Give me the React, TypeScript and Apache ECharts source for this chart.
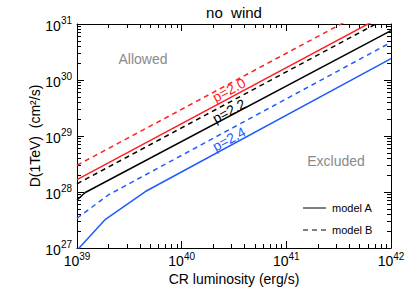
import React, { useEffect, useRef } from "react";
import * as echarts from "echarts";

// ---- data ----
// p = 2.0
const lumRedA = [1e39, 1e42];
const dRedA = [1.66e28, 1.66e31];
const lumRedB = [1e39, 1e42];
const dRedB = [3.0e28, 3.0e31];
// p = 2.2
const lumBlackA = [1e39, 1.2e39, 1e42];
const dBlackA = [7.2e27, 9.8e27, 7.6e30];
const lumBlackB = [1e39, 1e42];
const dBlackB = [1.4e28, 1.4e31];
// p = 2.4
const lumBlueA = [1e39, 1.87e39, 4.5e39, 1e42];
const dBlueA = [9.1e26, 3.25e27, 1.02e28, 2.4e30];
const lumBlueB = [1e39, 2e39, 1e42];
const dBlueB = [3.4e27, 8.9e27, 4.7e30];

const slopeLabels = ["p=2.0", "p=2.2", "p=2.4"];

const FONT = "'Liberation Sans', Arial, Helvetica, sans-serif";
const RED = "#ff1f1f";
const BLACK = "#000000";
const BLUE = "#1f5cff";
const GRAY = "#8a8a8a";

const GRID = { left: 77, right: 24, top: 24, bottom: 49 };

function minorTicks(from: number, to: number): number[] {
  const out: number[] = [];
  for (let d = from; d < to; d++) {
    for (let m = 2; m <= 9; m++) out.push(m * Math.pow(10, d));
  }
  return out;
}

function pairs(xs: number[], ys: number[]) {
  return xs.map((x, i) => [x, ys[i]]);
}

const supFormatter = (v: number) =>
  "{b|10}{s|" + Math.round(Math.log10(v)) + "}";

const richLabel = {
  b: { fontSize: 14, fontFamily: FONT, color: BLACK, lineHeight: 17, verticalAlign: "bottom" },
  s: { fontSize: 10, fontFamily: FONT, color: BLACK, lineHeight: 17, verticalAlign: "top" },
};

export default function App() {
  const ref = useRef<HTMLDivElement>(null);
  useEffect(() => {
    if (!ref.current) return;
    const chart = echarts.init(ref.current, undefined, { renderer: "svg" });
    const W = 415, H = 297;
    const plotW = W - GRID.left - GRID.right;
    const plotH = H - GRID.top - GRID.bottom;
    const angle = Math.atan2(plotH / 4, plotW / 3);
    const cx = GRID.left + plotW / 2;
    const cy = GRID.top + plotH / 2;

    const xMin = 1e39, xMax = 1e42, yMin = 1e27, yMax = 1e31;
    const xMinor = minorTicks(39, 42);
    const yMinor = minorTicks(27, 31);

    const mkAxis = (
      dim: "x" | "y",
      position: string,
      major: boolean,
      labels: boolean
    ) => ({
      type: "log",
      logBase: 10,
      min: dim === "x" ? xMin : yMin,
      max: dim === "x" ? xMax : yMax,
      position,
      offset: 0,
      axisLine: major
        ? { show: true, onZero: false, lineStyle: { color: BLACK, width: 1 } }
        : { show: false, onZero: false },
      axisTick: major
        ? { show: true, inside: true, length: 7, lineStyle: { color: BLACK, width: 1 } }
        : {
            show: true,
            inside: true,
            length: 4,
            customValues: dim === "x" ? xMinor : yMinor,
            lineStyle: { color: BLACK, width: 1 },
          },
      axisLabel: labels
        ? {
            show: true,
            margin: dim === "x" ? 3 : 5,
            formatter: supFormatter,
            rich: richLabel,
            showMinLabel: true,
            showMaxLabel: true,
          }
        : { show: false },
      splitLine: { show: false },
      minorTick: { show: false },
    });

    const xAxis: any[] = [
      {
        ...mkAxis("x", "bottom", true, true),
        name: "CR luminosity (erg/s)",
        nameLocation: "middle",
        nameGap: 24,
        nameMoveOverlap: false,
        nameTextStyle: { fontSize: 14, fontFamily: FONT, color: BLACK },
      },
      mkAxis("x", "bottom", false, false),
      mkAxis("x", "top", true, false),
      mkAxis("x", "top", false, false),
    ];
    const yAxis: any[] = [
      mkAxis("y", "left", true, true),
      mkAxis("y", "left", false, false),
      mkAxis("y", "right", true, false),
      mkAxis("y", "right", false, false),
    ];

    const mk = (
      name: string,
      xs: number[],
      ys: number[],
      color: string,
      dashed: boolean,
      axisIdx = 0
    ) => ({
      type: "line",
      name,
      xAxisIndex: axisIdx,
      yAxisIndex: axisIdx,
      data: pairs(xs, ys),
      symbol: "none",
      showSymbol: false,
      clip: true,
      silent: true,
      lineStyle: {
        color,
        width: 1.5,
        type: dashed ? [5, 4] : "solid",
        opacity: axisIdx === 0 ? 1 : 0,
      },
    });

    const textEl = (
      text: string,
      x: number,
      y: number,
      fontSize: number,
      fill: string,
      rotation = 0
    ) => ({
      type: "text",
      x,
      y,
      rotation,
      style: {
        text,
        x: 0,
        y: 0,
        fill,
        fontSize,
        fontFamily: FONT,
        align: "center",
        verticalAlign: "middle",
      },
    });

    chart.setOption({
      animation: false,
      backgroundColor: "#ffffff",
      grid: { ...GRID, containLabel: false },
      xAxis,
      yAxis,
      series: [
        mk("p=2.0 model A", lumRedA, dRedA, RED, false),
        mk("p=2.0 model B", lumRedB, dRedB, RED, true),
        mk("p=2.2 model A", lumBlackA, dBlackA, BLACK, false),
        mk("p=2.2 model B", lumBlackB, dBlackB, BLACK, true),
        mk("p=2.4 model A", lumBlueA, dBlueA, BLUE, false),
        mk("p=2.4 model B", lumBlueB, dBlueB, BLUE, true),
        // invisible copies so that the mirrored / minor-tick axes are not blank
        mk("aux1", lumRedA, dRedA, RED, false, 1),
        mk("aux2", lumRedA, dRedA, RED, false, 2),
        mk("aux3", lumRedA, dRedA, RED, false, 3),
      ],
      graphic: [
        textEl("no  wind", cx, 12, 15, BLACK),
        textEl("D(1TeV)  (cm²/s)", 35, cy, 14, BLACK, Math.PI / 2),
        textEl("Allowed", 143, 59, 14, GRAY),
        textEl("Excluded", 336, 161, 14, GRAY),
        textEl(slopeLabels[0], 229, 90, 14, RED, angle),
        textEl(slopeLabels[1], 229, 111, 14, BLACK, angle),
        textEl(slopeLabels[2], 229, 139, 14, BLUE, angle),
        {
          type: "line",
          shape: { x1: 303, y1: 208, x2: 326, y2: 208 },
          style: { stroke: BLACK, lineWidth: 1 },
        },
        {
          type: "text",
          x: 332,
          y: 208,
          style: { text: "model A", fill: BLACK, fontSize: 11, fontFamily: FONT, verticalAlign: "middle" },
        },
        {
          type: "line",
          shape: { x1: 303, y1: 230, x2: 326, y2: 230 },
          style: { stroke: BLACK, lineWidth: 1, lineDash: [5, 4] },
        },
        {
          type: "text",
          x: 332,
          y: 230,
          style: { text: "model B", fill: BLACK, fontSize: 11, fontFamily: FONT, verticalAlign: "middle" },
        },
      ],
    });
    return () => chart.dispose();
  }, []);
  return (
    <div
      ref={ref}
      style={{ position: "fixed", left: 0, top: 0, width: 415, height: 297 }}
    />
  );
}
